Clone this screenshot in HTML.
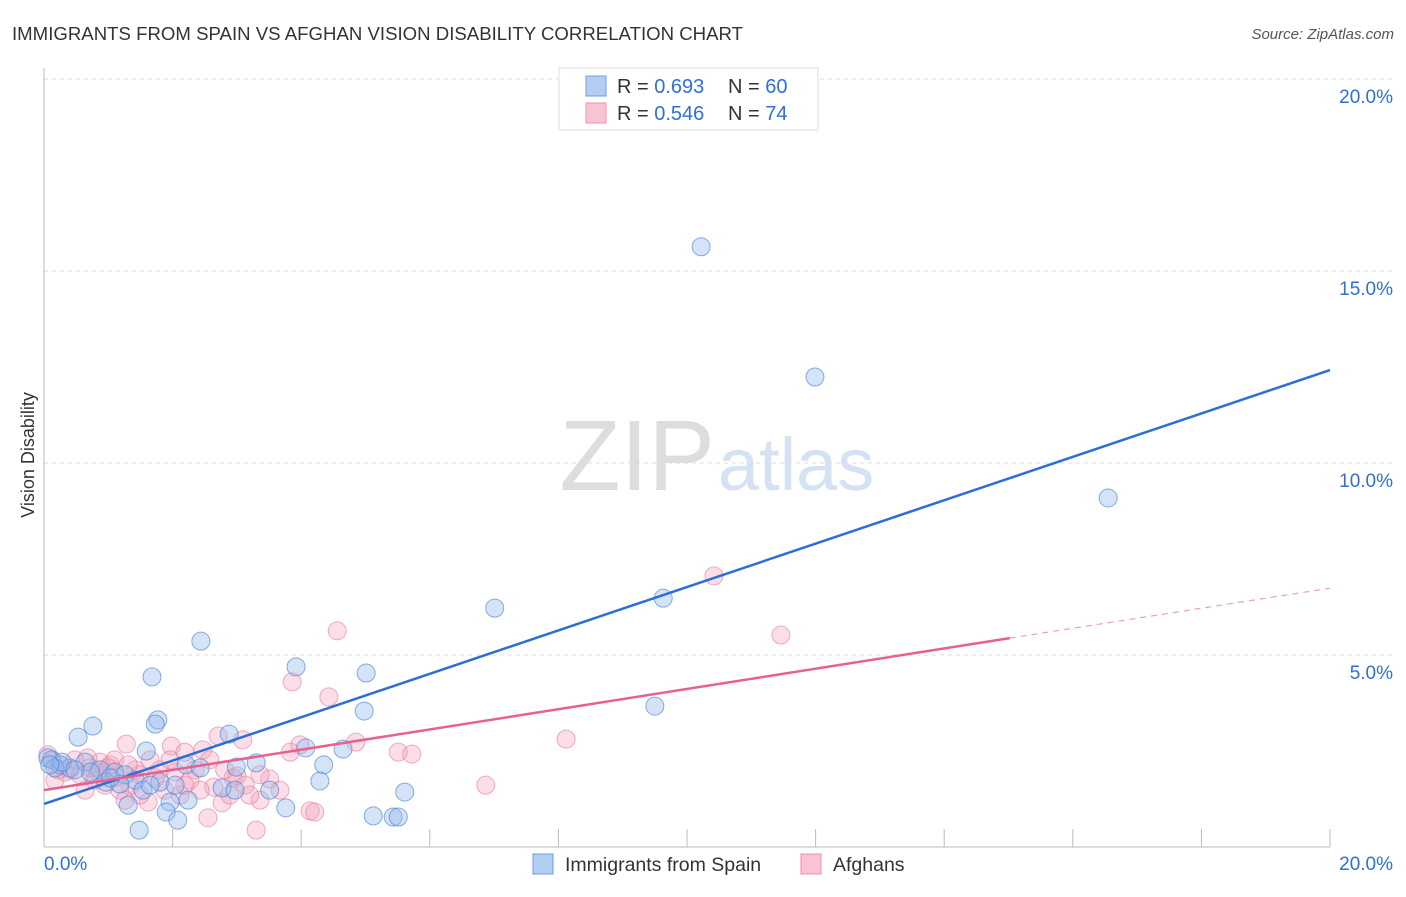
<!DOCTYPE html>
<html><head><meta charset="utf-8"><style>
body{margin:0;background:#fff;font-family:"Liberation Sans",sans-serif;}
svg text{font-family:"Liberation Sans",sans-serif;}
</style></head><body>
<svg id="c" width="1406" height="892">
<text x="12" y="40" font-size="18.6" fill="#333" textLength="731">IMMIGRANTS FROM SPAIN VS AFGHAN VISION DISABILITY CORRELATION CHART</text>
<text x="1394" y="39" font-size="15" fill="#555" font-style="italic" text-anchor="end">Source: ZipAtlas.com</text>
<text transform="translate(34,455) rotate(-90)" font-size="18" fill="#333" text-anchor="middle">Vision Disability</text>
<text x="715" y="490" font-size="100" fill="#ddd" text-anchor="end" font-family="Liberation Serif">ZIP</text>
<text x="718" y="490" font-size="74" fill="#d4e2f4">atlas</text>
<g id="grid"></g><g id="marks"></g>
<g>
<rect x="559" y="68" width="259" height="62" fill="#fff" stroke="#ddd"/>
<rect x="586" y="76" width="20" height="20" fill="#b3cdf3" stroke="#6d9de0"/>
<rect x="586" y="103" width="20" height="20" fill="#f9c3d4" stroke="#ec92ae"/>
<text x="617" y="93" font-size="20" fill="#333">R = <tspan fill="#2f6fd6">0.693</tspan><tspan x="728">N = </tspan><tspan fill="#2f6fd6">60</tspan></text>
<text x="617" y="120" font-size="20" fill="#333">R = <tspan fill="#2f6fd6">0.546</tspan><tspan x="728">N = </tspan><tspan fill="#2f6fd6"> 74</tspan></text>
</g>
<rect x="533" y="854" width="20" height="20" fill="#b3cdf3" stroke="#6d9de0"/>
<text x="565" y="871" font-size="19.5" fill="#333">Immigrants from Spain</text>
<rect x="801" y="854" width="20" height="20" fill="#f9c3d4" stroke="#ec92ae"/>
<text x="833" y="871" font-size="19.5" fill="#333">Afghans</text>
</svg>
<script>
const blueX=[10.22,11.99,16.55,7.01,9.63,2.44,3.92,5.01,1.68,4.98,9.50,0.76,1.77,1.73,0.53,2.88,1.59,4.07,4.65,3.30,4.35,2.99,2.21,0.12,0.25,0.40,0.64,0.87,1.10,1.26,1.42,1.80,2.04,0.96,1.18,1.54,4.29,5.61,1.96,2.24,1.31,2.77,2.97,3.76,5.12,5.43,5.51,1.90,2.08,1.48,0.06,0.17,0.28,0.72,1.03,1.65,2.43,3.51,0.09,0.48];
const blueY=[15.63,12.24,9.09,6.22,6.48,5.36,4.69,4.53,4.43,3.54,3.67,3.15,3.31,3.20,2.86,2.94,2.50,2.58,2.55,2.19,2.14,2.08,2.14,2.27,2.14,2.06,2.21,2.01,1.95,1.88,1.74,1.69,1.61,1.69,1.64,1.48,1.72,1.43,1.17,1.22,1.09,1.54,1.48,1.02,0.81,0.78,0.78,0.91,0.70,0.44,2.32,2.06,2.21,1.95,1.80,1.61,2.06,1.48,2.14,2.01];
const pinkX=[10.42,4.56,11.46,3.86,4.43,8.12,5.51,5.72,4.85,6.87,3.09,2.71,1.98,1.28,2.19,2.47,3.83,2.94,3.00,3.51,3.36,2.64,2.77,2.55,3.30,4.14,4.21,1.62,1.12,1.34,1.49,1.80,1.73,2.04,2.35,1.03,0.87,0.72,0.56,0.40,0.25,0.12,0.06,0.17,0.64,1.18,1.88,2.27,2.58,2.81,3.13,3.36,3.67,1.65,1.42,0.79,0.33,0.48,0.95,2.12,2.43,3.20,1.49,1.96,2.89,3.98,1.26,1.10,0.22,0.68,0.84,1.00,2.19,1.31];
const pinkY=[7.06,5.63,5.52,4.30,3.91,2.81,2.47,2.42,2.73,1.61,2.79,2.89,2.63,2.68,2.47,2.53,2.47,1.80,1.85,1.77,1.22,1.56,1.15,0.76,0.44,0.94,0.91,1.17,1.82,1.59,1.35,2.01,1.80,1.95,2.01,2.14,2.21,2.06,1.88,2.01,2.14,2.27,2.40,1.74,1.48,1.48,1.48,1.74,2.27,2.01,1.61,1.88,1.48,2.27,2.01,1.74,1.95,2.27,1.61,1.35,1.48,1.35,1.88,2.27,1.35,2.66,1.22,2.27,2.01,2.32,1.95,2.06,1.61,2.14];
const blueTrend=[1.12,12.42];
const pinkTrend=[1.48,5.44,6.74];
const pinkSolidEnd=15.02;
const yTicks=[5,10,15,20];
const yTickLabels=["5.0%","10.0%","15.0%","20.0%"];
const xTicks=[0,2,4,6,8,10,12,14,16,18,20];

const NS="http://www.w3.org/2000/svg";
const xs=v=>44+v*64.3, ys=v=>847-v*38.4;
function mk(t,a,p){const e=document.createElementNS(NS,t);for(const k in a)e.setAttribute(k,a[k]);p.appendChild(e);return e;}
const g=document.getElementById('grid'), m=document.getElementById('marks');
yTicks.forEach((t,i)=>{
  const l=mk('line',{x1:44,x2:1394,y1:ys(t),y2:ys(t),stroke:'#ddd','stroke-dasharray':'4,4'},g);
  
  
  const tx=mk('text',{x:1393,y:ys(t)+24,'font-size':19,fill:'#2f6fd6','text-anchor':'end'},g);
  tx.textContent=yTickLabels[i];
  
  
});
const ya=mk('line',{x1:44,x2:44,y1:68,y2:847,stroke:'#bbb'},g);


const xa=mk('line',{x1:44,x2:1330,y1:847,y2:847,stroke:'#bbb'},g);


xTicks.forEach(t=>{
  const l=mk('line',{x1:xs(t),x2:xs(t),y1:829,y2:847,stroke:'#bbb'},g);
  
  
});
const x0=mk('text',{x:44,y:870,'font-size':19,fill:'#2f6fd6'},g);x0.textContent='0.0%';


const x1=mk('text',{x:1393,y:870,'font-size':19,fill:'#2f6fd6','text-anchor':'end'},g);x1.textContent='20.0%';


pinkX.forEach((x,i)=>{
  const c=mk('circle',{cx:xs(x),cy:ys(pinkY[i]),r:9,fill:'rgba(244,160,188,0.35)',stroke:'rgba(232,120,155,0.6)','stroke-width':1},m);
  
  
});
blueX.forEach((x,i)=>{
  const c=mk('circle',{cx:xs(x),cy:ys(blueY[i]),r:9,fill:'rgba(150,185,235,0.4)',stroke:'rgba(70,130,215,0.65)','stroke-width':1},m);
  
  
});
const bl=mk('line',{x1:xs(0),y1:ys(blueTrend[0]),x2:xs(20),y2:ys(blueTrend[1]),stroke:'#2a6fd6','stroke-width':2.5},m);


const pl=mk('line',{x1:xs(0),y1:ys(pinkTrend[0]),x2:xs(pinkSolidEnd),y2:ys(pinkTrend[1]),stroke:'#e8608e','stroke-width':2.5},m);


const pd=mk('line',{x1:xs(pinkSolidEnd),y1:ys(pinkTrend[1]),x2:xs(20),y2:ys(pinkTrend[2]),stroke:'#e8a0b8','stroke-width':1.2,'stroke-dasharray':'6,5'},m);


</script>
</body></html>
